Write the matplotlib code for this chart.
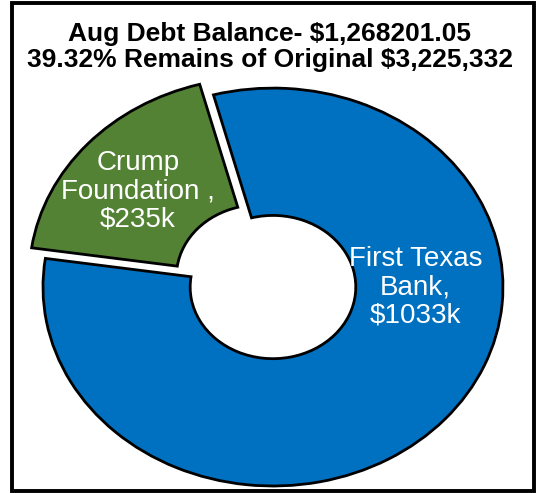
import matplotlib.pyplot as plt
from matplotlib.patches import Rectangle

plt.rcParams['font.family'] = ['Liberation Sans', 'DejaVu Sans']

# debt balances in $k
lenders = ['Crump\nFoundation ,\n$235k', 'First Texas\nBank,\n$1033k']
balances = [235, 1033]
colors = ['#548235', '#0070C0']
explode = [0.08, 0.0]

title_1 = 'Aug Debt Balance- $1,268201.05'
title_2 = '39.32% Remains of Original $3,225,332'

fig = plt.figure(figsize=(5.4, 4.93), dpi=100)
ax = fig.add_axes([0.037, 0.0142, 0.937, 0.908])

wedges, _ = ax.pie(balances, colors=colors, explode=explode, startangle=105,
                   counterclock=True, radius=1.0,
                   wedgeprops=dict(width=0.64, edgecolor='black', linewidth=2))
ax.set_aspect('auto')
ax.set_xlim(-1.1, 1.1)
ax.set_ylim(-1.0, 1.25)
ax.axis('off')

# labels inside the slices
ax.text(-0.587, 0.48, lenders[0], color='white', fontsize=20,
        ha='center', va='center', linespacing=1.12)
ax.text(0.62, 0.0, lenders[1], color='white', fontsize=20,
        ha='center', va='center', linespacing=1.12)

fig.text(0.5, 0.917, title_1, ha='center', va='baseline', fontsize=19, fontweight='bold')
fig.text(0.5, 0.864, title_2, ha='center', va='baseline', fontsize=19, fontweight='bold')

# outer frame
fig.patches.append(Rectangle((12 / 540, 2 / 493), 522 / 540, 488 / 493,
                             transform=fig.transFigure, fill=False,
                             edgecolor='black', linewidth=2.8))

fig.savefig('out.png', dpi=100)
